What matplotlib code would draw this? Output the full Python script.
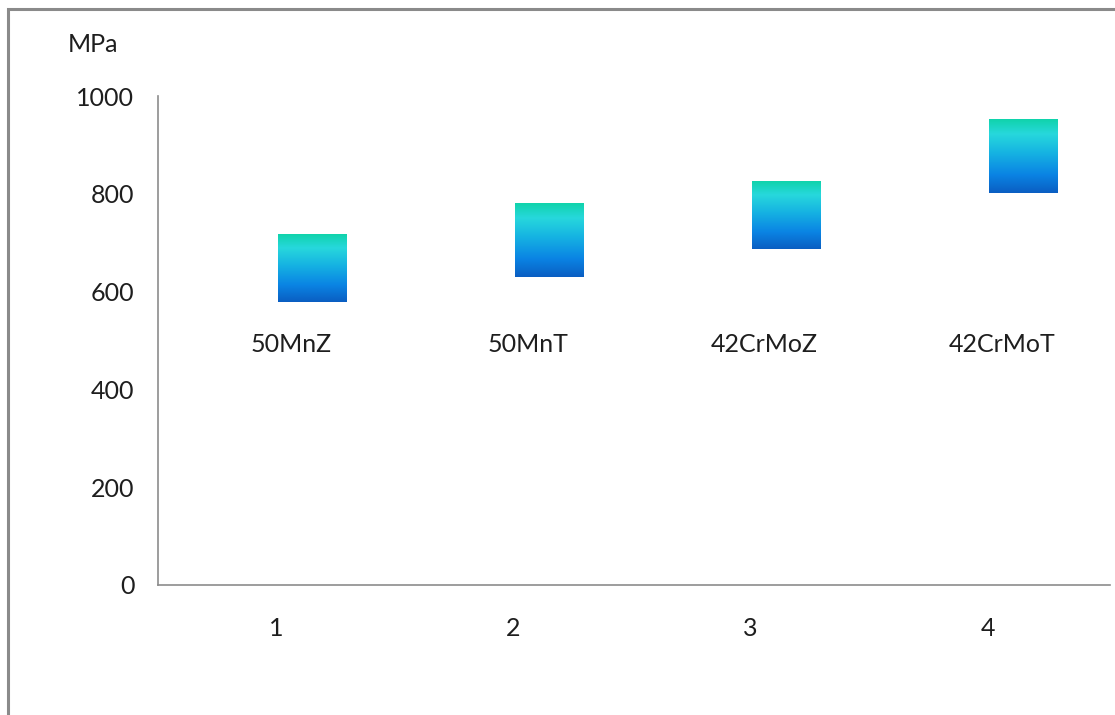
import numpy as np
import matplotlib.pyplot as plt
from matplotlib.colors import LinearSegmentedColormap
from matplotlib.patches import Rectangle

# floating strength ranges (MPa) per steel grade
categories = [1, 2, 3, 4]
grades = ['50MnZ', '50MnT', '42CrMoZ', '42CrMoT']
low_vals = [578, 630, 687, 801]
high_vals = [716, 781, 826, 951]
label_level = 476
yticks = [0, 200, 400, 600, 800, 1000]

plt.rcParams['font.family'] = ['Lato', 'DejaVu Sans']
txt_color = '#1e1e1e'
fs = 18

fig = plt.figure(figsize=(11.15, 7.15), dpi=100)
W, H = 1115, 715
ax = fig.add_axes([158 / W, (H - 585) / H, (1106 - 158) / W, (585 - 96) / H])

# outer chart frame (right and bottom edges run off the canvas)
fig.patches.append(Rectangle((8 / W, -0.05), 1.1, (H - 9) / H + 0.05,
                             transform=fig.transFigure, fill=False,
                             edgecolor='#8a8a8a', lw=2.2))

grad = LinearSegmentedColormap.from_list('bar', [
    (0.0, '#0a5ec2'), (0.25, '#0a84e4'), (0.55, '#16b4e2'),
    (0.8, '#27d8dc'), (1.0, '#10d3ab')])
ramp = np.linspace(0, 1, 256).reshape(-1, 1)

bar_w = 0.29
for c, lo, hi in zip(categories, low_vals, high_vals):
    x0 = c + 0.005
    ax.imshow(ramp, cmap=grad, origin='lower', aspect='auto',
              extent=(x0, x0 + bar_w, lo, hi), zorder=2,
              interpolation='bilinear')

for c, g in zip(categories, grades):
    ax.text(c + 0.06, label_level, g, ha='center', va='baseline',
            fontsize=fs, color=txt_color)

ax.set_xlim(0.5, 4.5)
ax.set_ylim(0, 1000)
ax.set_xticks(categories)
ax.set_yticks(yticks)
ax.tick_params(length=0, labelsize=fs, colors=txt_color)
ax.tick_params(axis='y', pad=17)
ax.tick_params(axis='x', pad=23)

for s in ['top', 'right']:
    ax.spines[s].set_visible(False)
for s in ['left', 'bottom']:
    ax.spines[s].set_color('#8c8c8c')
    ax.spines[s].set_linewidth(1.2)
ax.spines['bottom'].set_bounds(0.5, 4.517)
ax.spines['bottom'].set_clip_on(False)

fig.text(68 / W, 1 - 52 / H, 'MPa', fontsize=fs, color=txt_color,
         ha='left', va='baseline')

fig.savefig('out.png', dpi=100)
